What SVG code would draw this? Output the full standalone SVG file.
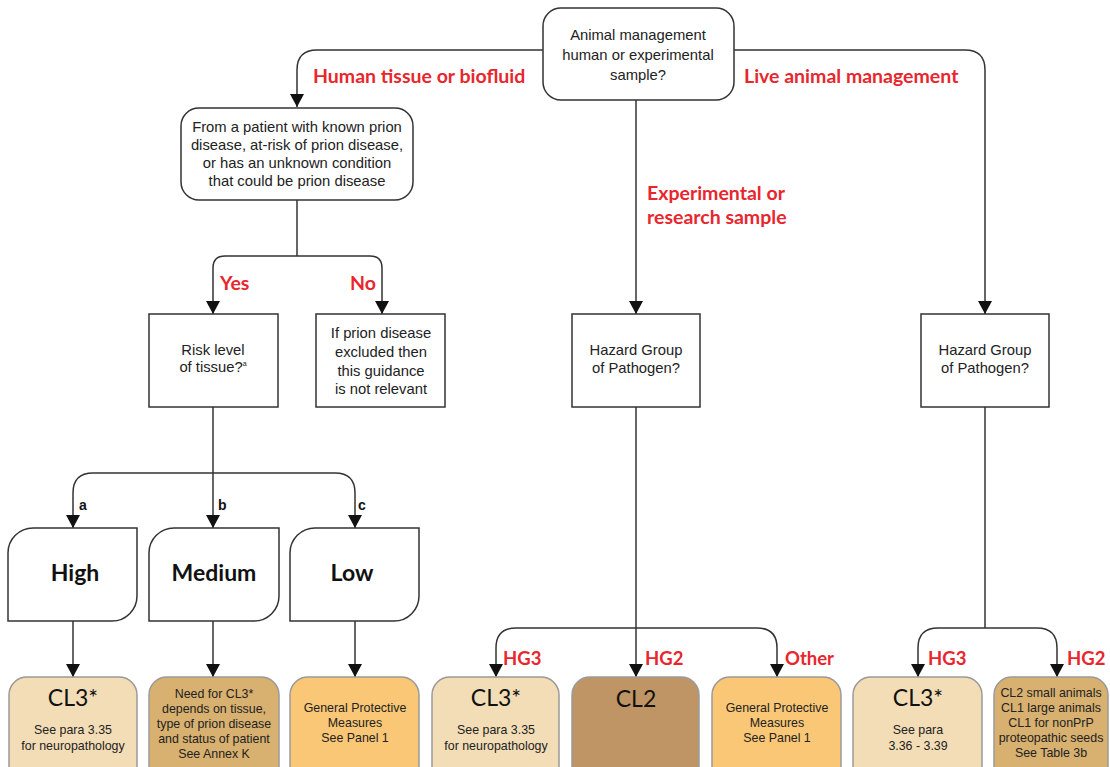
<svg xmlns="http://www.w3.org/2000/svg" width="1110" height="767" viewBox="0 0 1110 767">
<defs>
<marker id="arr" markerUnits="userSpaceOnUse" markerWidth="14" markerHeight="14" refX="13" refY="7" orient="auto">
<path d="M0,0 L13,7 L0,14 Z" fill="#111"/>
</marker>
<style>
.c{fill:none;stroke:#333;stroke-width:1.5;marker-end:url(#arr)}
.l{fill:none;stroke:#333;stroke-width:1.5}
.q{fill:#fff;stroke:#333;stroke-width:1.5}
.t{font-family:"Liberation Sans",Arial,sans-serif;font-size:14.8px;fill:#222;text-anchor:middle}
.s{font-family:"Liberation Sans",Arial,sans-serif;font-size:12.4px;fill:#222;text-anchor:middle}
.r{font-family:Lato,"Open Sans",sans-serif;font-weight:bold;font-size:19.5px;fill:#E8262E}
.r2{font-family:Lato,"Open Sans",sans-serif;font-weight:bold;font-size:18.5px;fill:#E8262E}
.h{font-family:Lato,"Open Sans",sans-serif;font-weight:bold;font-size:23px;fill:#111;text-anchor:middle}
.big{font-family:Lato,"Open Sans",sans-serif;font-size:23px;fill:#111;text-anchor:middle}
.abc{font-family:"Liberation Sans",Arial,sans-serif;font-weight:bold;font-size:14px;fill:#111}
.b{stroke:#9a9a9a;stroke-width:1.5}
</style>
</defs>
<rect width="1110" height="767" fill="#fff"/>
<g id="connectors">
<path class="c" d="M543,50 H317 Q297,50 297,70 V107"/>
<path class="c" d="M733,50 H965 Q985,50 985,70 V314"/>
<path class="c" d="M636,100 V314"/>
<path class="l" d="M297,200 V256"/>
<path class="c" d="M297,256 H225 Q213,256 213,268 V314"/>
<path class="c" d="M297,256 H370 Q382,256 382,268 V314"/>
<path class="c" d="M213,407 V528"/>
<path class="c" d="M213,473 H93 Q73,473 73,493 V528"/>
<path class="c" d="M213,473 H335 Q355,473 355,493 V528"/>
<path class="c" d="M73,621 V677"/>
<path class="c" d="M213,621 V677"/>
<path class="c" d="M355,621 V677"/>
<path class="c" d="M636,407 V677"/>
<path class="c" d="M636,628 H516 Q496,628 496,648 V677"/>
<path class="c" d="M636,628 H757 Q777,628 777,648 V677"/>
<path class="l" d="M985,407 V628"/>
<path class="c" d="M985,628 H938 Q918,628 918,648 V677"/>
<path class="c" d="M985,628 H1037 Q1057,628 1057,648 V677"/>
<text class="r" x="313" y="83">Human tissue or biofluid</text>
<text class="r" x="744" y="83">Live animal management</text>
<text class="r" x="647" y="200">Experimental or</text>
<text class="r" x="647" y="224">research sample</text>
<text class="r" x="220" y="290">Yes</text>
<text class="r" x="350" y="290">No</text>
<text class="abc" x="79" y="510">a</text>
<text class="abc" x="218" y="510">b</text>
<text class="abc" x="358" y="510">c</text>
<text class="r2" x="503" y="665">HG3</text>
<text class="r2" x="645" y="665">HG2</text>
<text class="r2" x="785" y="665">Other</text>
<text class="r2" x="928" y="665">HG3</text>
<text class="r2" x="1067" y="665">HG2</text>
</g>
<g id="start">
<rect class="q" x="543" y="8" width="191" height="92" rx="18"/>
<text class="t" x="638" y="40">Animal management</text>
<text class="t" x="638" y="60">human or experimental</text>
<text class="t" x="638" y="80">sample?</text>
</g>
<g id="patient">
<rect class="q" x="181" y="108" width="232" height="92" rx="18"/>
<text class="t" x="297" y="132">From a patient with known prion</text>
<text class="t" x="297" y="150">disease, at-risk of prion disease,</text>
<text class="t" x="297" y="168">or has an unknown condition</text>
<text class="t" x="297" y="186">that could be prion disease</text>
</g>
<g id="risk">
<rect class="q" x="149" y="314" width="129" height="93"/>
<text class="t" x="213" y="355">Risk level</text>
<text class="t" x="213" y="372">of tissue?<tspan font-size="7" dy="-6">a</tspan></text>
</g>
<g id="excluded">
<rect class="q" x="316" y="314" width="129" height="93"/>
<text class="t" x="381" y="338">If prion disease</text>
<text class="t" x="381" y="357">excluded then</text>
<text class="t" x="381" y="376">this guidance</text>
<text class="t" x="381" y="394">is not relevant</text>
</g>
<g id="hazard1">
<rect class="q" x="572" y="314" width="128" height="93"/>
<text class="t" x="636" y="355">Hazard Group</text>
<text class="t" x="636" y="373">of Pathogen?</text>
</g>
<g id="hazard2">
<rect class="q" x="921" y="314" width="128" height="93"/>
<text class="t" x="985" y="355">Hazard Group</text>
<text class="t" x="985" y="373">of Pathogen?</text>
</g>
<g id="high">
<path class="q" d="M8,553 A25,25 0 0 1 33,528 H137 V596 A25,25 0 0 1 112,621 H8 Z"/>
<text class="h" x="75" y="581">High</text>
</g>
<g id="medium">
<path class="q" d="M149,553 A25,25 0 0 1 174,528 H279 V596 A25,25 0 0 1 254,621 H149 Z"/>
<text class="h" x="214" y="581">Medium</text>
</g>
<g id="low">
<path class="q" d="M290,553 A25,25 0 0 1 315,528 H419 V596 A25,25 0 0 1 394,621 H290 Z"/>
<text class="h" x="352" y="581">Low</text>
</g>
<g id="cl3-high">
<rect class="b" x="9" y="677" width="128" height="110" rx="18" fill="#F3DDB7"/>
<text class="big" x="73" y="706">CL3*</text>
<text class="s" x="73" y="734">See para 3.35</text>
<text class="s" x="73" y="750">for neuropathology</text>
</g>
<g id="medium-result">
<rect class="b" x="149" y="677" width="130" height="110" rx="18" fill="#D8B06F"/>
<text class="s" x="214" y="698">Need for CL3*</text>
<text class="s" x="214" y="713">depends on tissue,</text>
<text class="s" x="214" y="728">type of prion disease</text>
<text class="s" x="214" y="743">and status of patient</text>
<text class="s" x="214" y="758">See Annex K</text>
</g>
<g id="low-result">
<rect class="b" x="290" y="677" width="129" height="110" rx="18" fill="#F9C775"/>
<text class="s" x="355" y="712">General Protective</text>
<text class="s" x="355" y="727">Measures</text>
<text class="s" x="355" y="742">See Panel 1</text>
</g>
<g id="cl3-exp">
<rect class="b" x="432" y="677" width="127" height="110" rx="18" fill="#F3DDB7"/>
<text class="big" x="496" y="706">CL3*</text>
<text class="s" x="496" y="734">See para 3.35</text>
<text class="s" x="496" y="750">for neuropathology</text>
</g>
<g id="cl2-exp">
<rect class="b" x="572" y="677" width="127" height="110" rx="18" fill="#BF9565"/>
<text class="big" x="636" y="707">CL2</text>
</g>
<g id="other-exp">
<rect class="b" x="712" y="677" width="129" height="110" rx="18" fill="#F9C775"/>
<text class="s" x="777" y="712">General Protective</text>
<text class="s" x="777" y="727">Measures</text>
<text class="s" x="777" y="742">See Panel 1</text>
</g>
<g id="cl3-live">
<rect class="b" x="853" y="677" width="129" height="110" rx="18" fill="#F3DDB7"/>
<text class="big" x="918" y="706">CL3*</text>
<text class="s" x="918" y="734">See para</text>
<text class="s" x="918" y="750">3.36 - 3.39</text>
</g>
<g id="hg2-live">
<rect class="b" x="994" y="677" width="114" height="110" rx="18" fill="#D8B06F"/>
<text class="s" x="1051" y="697">CL2 small animals</text>
<text class="s" x="1051" y="712">CL1 large animals</text>
<text class="s" x="1051" y="727">CL1 for nonPrP</text>
<text class="s" x="1051" y="742">proteopathic seeds</text>
<text class="s" x="1051" y="757">See Table 3b</text>
</g>
</svg>
